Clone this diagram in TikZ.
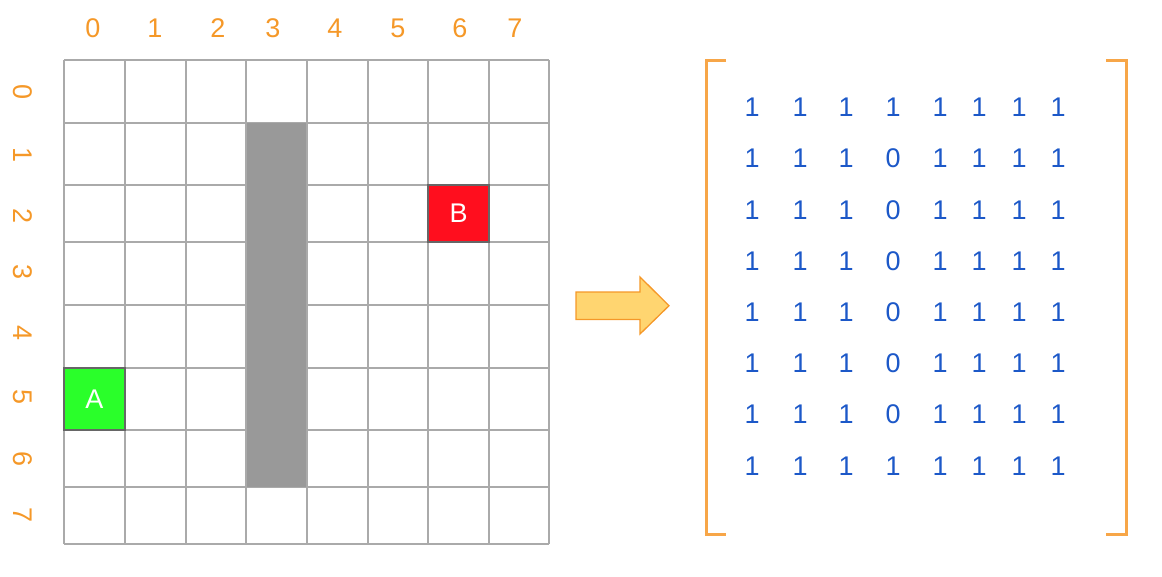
\documentclass[tikz,border=0pt]{standalone}
\usepackage{fontspec}
\setmainfont{Liberation Sans}
\usetikzlibrary{positioning}
\definecolor{lblorange}{RGB}{245,152,40}
\definecolor{brkorange}{RGB}{247,166,72}
\definecolor{arrfill}{RGB}{255,213,112}
\definecolor{numblue}{RGB}{28,88,200}
\definecolor{gridgray}{RGB}{170,170,170}
\definecolor{wallgray}{RGB}{153,153,153}
\definecolor{startgreen}{RGB}{42,255,42}
\definecolor{goalred}{RGB}{255,14,30}

\begin{document}
\begin{tikzpicture}[
    x=1pt, y=-1pt,
    lbl/.style={text=lblorange, font=\fontsize{27}{30}\selectfont, inner sep=0pt},
    num/.style={text=numblue, font=\fontsize{27}{30}\selectfont, inner sep=0pt},
    cell/.style={rectangle, draw=black!60, line width=1.5pt, minimum width=61pt, minimum height=62pt, text=white, font=\fontsize{27}{30}\selectfont, inner sep=0pt},
    gridline/.style={draw=gridgray, line width=1.3pt},
    bracket/.style={draw=brkorange, line width=3pt}
]
\useasboundingbox (0,0) rectangle (1162,576);

% Column labels
\foreach \c/\cx in {0/93,1/155,2/218,3/273,4/335,5/398,6/460,7/515}
  \node[lbl] (col\c) at (\cx,28) {\c};

% Row labels
\foreach \r/\ry in {0/92,1/155,2/216,3/272,4/333,5/397,6/459,7/515}
  \node[lbl, rotate=-90] (row\r) at (23,\ry) {\r};

% Grid
\foreach \gx in {64,125,186,246,307,368,428,489,549}
  \draw[gridline] (\gx,60) -- (\gx,544);
\foreach \gy in {60,123,185,242,305,368,430,487,544}
  \draw[gridline] (64,\gy) -- (549,\gy);

% Wall
\fill[wallgray] (246.6,123) rectangle (306.4,487);

% Start and goal
\node[cell, fill=startgreen, minimum height=62pt] (A) at (94.5,399) {A};
\node[cell, fill=goalred, minimum height=57pt] (B) at (458.5,213.5) {B};

% Arrow
\draw[draw=lblorange, fill=arrfill, line width=1.3pt]
  (576,292) -- (640,292) -- (640,277) -- (669,305.7) -- (640,334) -- (640,319.5) -- (576,319.5) -- cycle;

% Matrix brackets
\draw[bracket] (726,60) -- (706,60) -- (706,534) -- (726,534);
\draw[bracket] (1106,60) -- (1126,60) -- (1126,534) -- (1106,534);

% Matrix entries
\foreach \r/\ry in {0/107,1/158,2/210,3/261,4/312,5/363,6/414,7/466}
  \foreach \c/\cx in {0/752,1/800,2/846,3/893,4/940,5/979,6/1019,7/1058} {
    \pgfmathtruncatemacro\val{(\c==3 && \r>0 && \r<7) ? 0 : 1}
    \node[num] (m\r\c) at (\cx,\ry) {\val};
  }

\end{tikzpicture}
\end{document}
